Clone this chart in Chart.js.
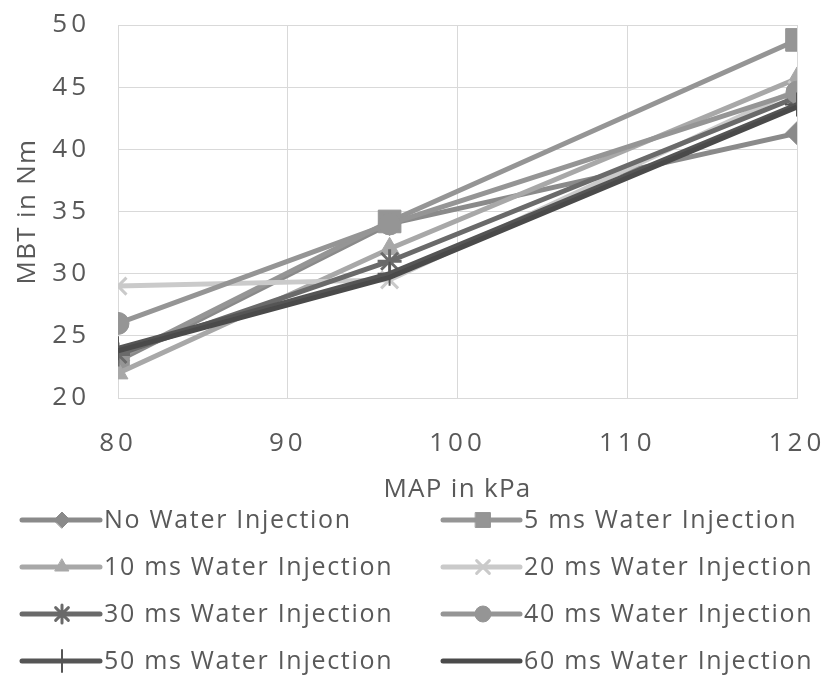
<!DOCTYPE html>
<html>
<head>
<meta charset="utf-8">
<script src="https://cdn.jsdelivr.net/npm/chart.js@4.4.1/dist/chart.umd.min.js"></script>
<style>
  html, body { margin: 0; padding: 0; background: #fff; }
  #wrap { width: 826px; height: 678px; position: relative; }
</style>
</head>
<body>
<div id="wrap"><canvas id="mbtChart"></canvas></div>
<script>
// MAP (kPa) measured points
const mapKpa = [80, 96, 120];

// MBT (Nm) per water injection duration
const noWater = [23.0, 34.0, 41.3];
const inj5ms = [23.2, 34.2, 48.8];
const inj10ms = [22.0, 32.0, 45.7];
const inj20ms = [29.0, 29.5, 44.8];
const inj30ms = [23.5, 31.0, 44.2];
const inj40ms = [26.0, 34.0, 44.6];
const inj50ms = [24.0, 30.0, 43.6];
const inj60ms = [23.8, 29.7, 43.4];

const seriesNames = ['No Water Injection', '5 ms Water Injection', '10 ms Water Injection', '20 ms Water Injection',
  '30 ms Water Injection', '40 ms Water Injection', '50 ms Water Injection', '60 ms Water Injection'];
const seriesValues = [noWater, inj5ms, inj10ms, inj20ms, inj30ms, inj40ms, inj50ms, inj60ms];

// tick setup
const xTickMin = 80, xTickMax = 120, xTickStep = 10;
const yTickMin = 20, yTickMax = 50, yTickStep = 5;
const xTitle = 'MAP in kPa';
const yTitle = 'MBT in Nm';

// look of each series
const styles = [
  { color: '#8a8a8a', point: 'rectRot', r: 11.5, lr: 8, bw: 1 },
  { color: '#959595', point: 'rect', r: 16, lr: 10.5, bw: 1 },
  { color: '#a8a8a8', point: 'triangle', r: 11.5, lr: 8, bw: 1 },
  { color: '#cacaca', point: 'crossRot', r: 12, lr: 9, bw: 3 },
  { color: '#6a6a6a', point: 'star', r: 12, lr: 9, bw: 3 },
  { color: '#959595', point: 'circle', r: 11, lr: 8, bw: 1 },
  { color: '#555555', point: 'cross', r: 12, lr: 11, bw: 2 },
  { color: '#4a4a4a', point: false, r: 0, lr: 0, bw: 0 }
];

const textColor = '#595959';
const fontFamily = '"Open Sans", "Noto Sans", sans-serif';

const datasets = seriesValues.map((vals, i) => ({
  label: seriesNames[i],
  data: vals.map((v, k) => ({ x: mapKpa[k], y: v })),
  borderColor: styles[i].color,
  backgroundColor: styles[i].color,
  borderWidth: 5,
  pointStyle: styles[i].point,
  pointRadius: styles[i].r,
  pointHoverRadius: styles[i].r,
  pointBorderWidth: styles[i].bw,
  pointBorderColor: styles[i].color,
  pointBackgroundColor: styles[i].color,
  tension: 0,
  order: seriesValues.length - i
}));

// wide tracking for the tick numbers
const tickSpacing = {
  id: 'tickSpacing',
  beforeUpdate(chart) { chart.ctx.letterSpacing = '4px'; },
  beforeDraw(chart) { chart.ctx.letterSpacing = '4px'; }
};

// axis titles + two-column legend with line + marker samples
const lineLegend = {
  id: 'lineLegend',
  afterDraw(chart) {
    const ctx = chart.ctx;
    const area = chart.chartArea;
    ctx.save();
    ctx.fillStyle = textColor;
    ctx.letterSpacing = '1.3px';
    ctx.font = '26px ' + fontFamily;
    ctx.textAlign = 'center';
    ctx.textBaseline = 'middle';
    ctx.fillText(xTitle, (area.left + area.right) / 2, 490);
    ctx.save();
    ctx.translate(28, (area.top + area.bottom) / 2);
    ctx.rotate(-Math.PI / 2);
    ctx.fillText(yTitle, 0, 0);
    ctx.restore();

    const rowY = [520, 567, 614, 661];
    const cols = [{ x0: 22, x1: 100, mx: 62, tx: 104 }, { x0: 443, x1: 520, mx: 483, tx: 524 }];
    chart.data.datasets.forEach((ds, i) => {
      const c = cols[i % 2];
      const y = rowY[Math.floor(i / 2)];
      const st = styles[i];
      ctx.strokeStyle = st.color;
      ctx.lineWidth = 5;
      ctx.lineCap = 'round';
      ctx.beginPath();
      ctx.moveTo(c.x0, y);
      ctx.lineTo(c.x1, y);
      ctx.stroke();
      if (st.point) {
        ctx.fillStyle = st.color;
        ctx.strokeStyle = st.color;
        ctx.lineWidth = st.bw;
        Chart.helpers.drawPoint(ctx, { pointStyle: st.point, rotation: 0, radius: st.lr, borderWidth: st.bw }, c.mx, y);
      }
      ctx.fillStyle = textColor;
      ctx.letterSpacing = '1.7px';
      ctx.font = '25px ' + fontFamily;
      ctx.textAlign = 'left';
      ctx.textBaseline = 'middle';
      ctx.fillText(ds.label, c.tx, y + 1);
    });
    ctx.restore();
  }
};

new Chart(document.getElementById('mbtChart'), {
  type: 'line',
  data: { datasets },
  options: {
    responsive: true,
    maintainAspectRatio: false,
    animation: false,
    events: [],
    layout: { padding: { top: 25, right: 29, bottom: 169, left: 0 } },
    plugins: {
      legend: { display: false },
      tooltip: { enabled: false }
    },
    scales: {
      x: {
        type: 'linear',
        min: xTickMin,
        max: xTickMax,
        afterFit(scale) { scale.height = 111; scale.paddingLeft = 0; scale.paddingRight = 0; },
        ticks: { stepSize: xTickStep, color: textColor, padding: 30, font: { size: 26, family: fontFamily } },
        grid: { color: '#d9d9d9', lineWidth: 1, drawTicks: false },
        border: { color: '#d9d9d9' },
        title: { display: false }
      },
      y: {
        min: yTickMin,
        max: yTickMax,
        afterFit(scale) { scale.width = 118; scale.paddingTop = 0; scale.paddingBottom = 0; },
        ticks: { stepSize: yTickStep, color: textColor, padding: 28, font: { size: 26, family: fontFamily } },
        grid: { color: '#d9d9d9', lineWidth: 1, drawTicks: false },
        border: { color: '#d9d9d9' },
        title: { display: false }
      }
    }
  },
  plugins: [tickSpacing, lineLegend]
});
</script>
</body>
</html>
